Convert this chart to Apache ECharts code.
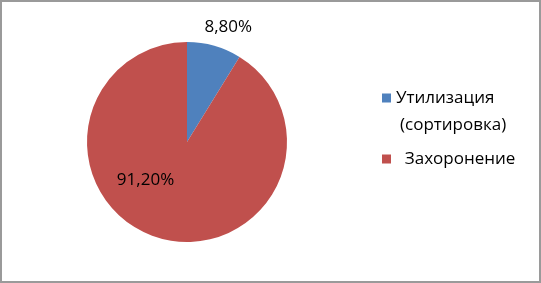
<!DOCTYPE html>
<html><head><meta charset="utf-8">
<script src="https://cdn.jsdelivr.net/npm/echarts@6/dist/echarts.min.js"></script>
<style>
html,body{margin:0;padding:0;background:#fff;}
#c{width:541px;height:283px;box-sizing:border-box;border:2px solid #9a9a9a;}
</style></head>
<body><div id="c"></div>
<script>
const categories = ['Утилизация', 'Захоронение'];
const legendSecondLine = '(сортировка)';
const values = [8.8, 91.2];
const labels = ['8,80%', '91,20%'];
const colors = ['#4F81BD', '#C0504D'];

const font = {fontFamily:'Open Sans', fontSize:17, color:'#000', lineHeight:20};
const chart = echarts.init(document.getElementById('c'), null, {renderer:'canvas'});
chart.setOption({
  animation:false,
  color: colors,
  legend:[
    {orient:'vertical', left:375, top:81, itemWidth:9, itemHeight:9, icon:'rect',
     textStyle:font, data:[categories[0]]},
    {orient:'vertical', left:375, top:142, itemWidth:9, itemHeight:9, icon:'rect',
     textStyle:font, data:[categories[1]], formatter: n => '  ' + n}
  ],
  graphic:[{type:'text', left:398, top:115, style:{text:legendSecondLine, fill:'#000', font:'17px "Open Sans"'}}],
  series:[{
    type:'pie', center:[185,140], radius:100, startAngle:90, clockwise:true,
    data: categories.map((n,i)=>({name:n, value:values[i],
      label: i===0 ? {position:'outside'} : {position:'inside'}
    })),
    label:{
      formatter: p => labels[p.dataIndex],
      fontFamily:'Open Sans', fontSize:17, color:'#000'
    },
    labelLine:{show:false, length:8, length2:0},
    labelLayout: p => p.dataIndex===1 ? {dx:-27, dy:-13} : {dx:-17, dy:-11},
    itemStyle:{borderWidth:0},
    emphasis:{disabled:true}
  }]
});
</script></body></html>
